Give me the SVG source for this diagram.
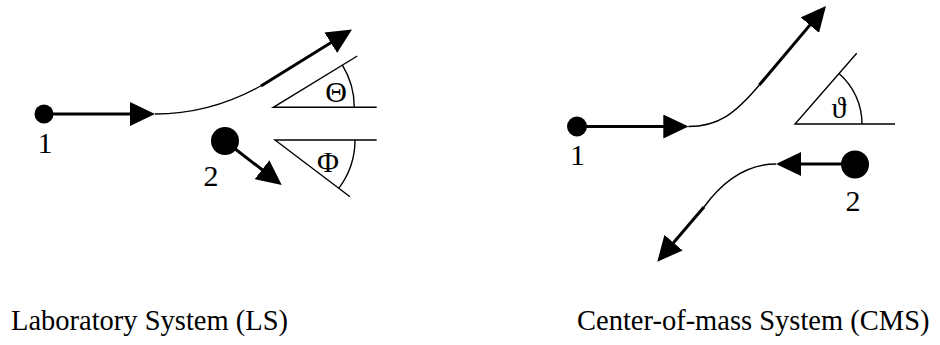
<svg xmlns="http://www.w3.org/2000/svg" width="940" height="345" viewBox="0 0 940 345">
<defs>
<style>
text{font-family:"Liberation Serif","Times New Roman","DejaVu Serif",serif;font-size:30px;fill:#000}
.mid{text-anchor:middle}
.cap{font-size:28.5px}
.thick{fill:none;stroke:#000;stroke-width:3;marker-end:url(#ah)}
.thin{fill:none;stroke:#000;stroke-width:1.4}
.dot{fill:#000}
</style>
<marker id="ah" viewBox="0 0 25 24" refX="19" refY="12" markerWidth="25" markerHeight="24" markerUnits="userSpaceOnUse" orient="auto">
<path d="M0,0 L25,12 L0,24 z" fill="#000"/>
</marker>
</defs>
<rect width="940" height="345" fill="#fff"/>

<g id="ls-particle1">
<circle class="dot" cx="44" cy="114" r="9.5"/>
<text class="mid" x="45" y="152.5">1</text>
</g>
<g id="ls-particle2">
<circle class="dot" cx="225" cy="141" r="14"/>
<text class="mid" x="211" y="186">2</text>
</g>
<g id="ls-angle-theta">
<path class="thin" d="M376.7,107.3 L273.3,107.3 L357.3,56"/>
<path class="thin" d="M342.4,65.1 A81,81 0 0 1 354.3,107.3"/>
<text class="mid" x="336" y="101.5">Θ</text>
</g>
<g id="ls-angle-phi">
<path class="thin" d="M376.7,140 L275,140 L350,196.7"/>
<path class="thin" d="M355,140 A80,80 0 0 1 338.9,188.1"/>
<text class="mid" x="328" y="171.5">Φ</text>
</g>
<g id="cms-particle1">
<circle class="dot" cx="577" cy="126.5" r="10"/>
<text class="mid" x="577.5" y="165">1</text>
</g>
<g id="cms-particle2">
<circle class="dot" cx="855" cy="164.5" r="14"/>
<text class="mid" x="853" y="211">2</text>
</g>
<g id="cms-angle-theta">
<path class="thin" d="M895,124 L795,124 L856.7,53.3"/>
<path class="thin" d="M839,73.5 A67,67 0 0 1 862,124"/>
<text class="mid" x="839" y="118">ϑ</text>
</g>
<g id="captions">
<text class="cap" x="11" y="330">Laboratory System (LS)</text>
<text class="cap" x="577" y="330">Center-of-mass System (CMS)</text>
</g>

<g id="connectors">
<line class="thick" x1="44" y1="114" x2="149" y2="114"/>
<path class="thin" d="M155,114 C190,114 225,106 261.5,85.5"/>
<line class="thick" x1="261" y1="86" x2="346.9" y2="32.7"/>
<line class="thick" x1="225" y1="141" x2="277" y2="181.3"/>

<line class="thick" x1="577" y1="126.5" x2="682.3" y2="126.5"/>
<path class="thin" d="M688.3,126.5 C718,126.5 735,114 759.8,84.5"/>
<line class="thick" x1="759.3" y1="85" x2="822.1" y2="10.6"/>
<line class="thick" x1="855" y1="164" x2="782" y2="164"/>
<path class="thin" d="M776,164 C750,164 725,178 703.6,207.5"/>
<line class="thick" x1="704" y1="207" x2="661.2" y2="257.1"/>
</g>
</svg>
